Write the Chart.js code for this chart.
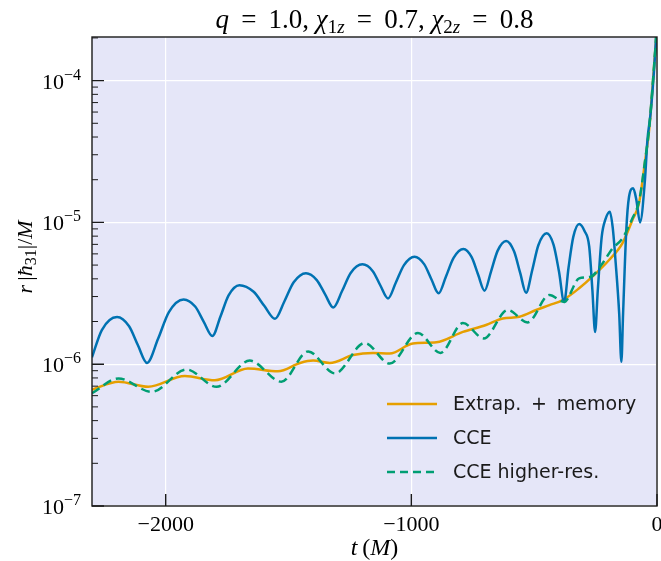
<!DOCTYPE html>
<html>
<head>
<meta charset="utf-8">
<script src="https://cdn.jsdelivr.net/npm/chart.js@4.4.1/dist/chart.umd.min.js"></script>
<style>
html, body { margin: 0; padding: 0; background: #ffffff; }
#caixa { width: 661px; height: 561px; }
</style>
</head>
<body>
<div id="caixa"><canvas id="grafico" width="661" height="561"></canvas></div>
<script>
// valores (t em M, r|h31|/M)
const tempoExtrap = [-2300, -2192, -2071, -1922, -1800, -1665, -1543, -1453, -1400, -1332, -1237, -1156, -1088, -994, -898, -790, -696, -628, -560, -492, -438, -384, -317, -263, -195, -141, -100, -73, -46, -32, -19, -5, 0];
const valorExtrap = [6.61e-7, 7.52e-7, 6.93e-7, 8.24e-7, 7.71e-7, 9.33e-7, 8.91e-7, 1.02e-6, 1.06e-6, 1.02e-6, 1.16e-6, 1.20e-6, 1.19e-6, 1.40e-6, 1.43e-6, 1.69e-6, 1.89e-6, 2.10e-6, 2.16e-6, 2.41e-6, 2.61e-6, 2.83e-6, 3.43e-6, 4.14e-6, 5.43e-6, 7.11e-6, 1.04e-5, 1.37e-5, 2.91e-5, 4.49e-5, 8.59e-5, 1.84e-4, 2.5e-4];

const tempoCce = [-2300, -2260, -2198, -2149, -2113, -2076, -2031, -1987, -1927, -1880,
    -1845, -1810, -1777, -1744, -1700, -1642, -1598, -1555, -1517, -1479,
    -1429, -1385, -1351, -1318, -1282, -1247, -1199, -1157, -1126, -1095,
    -1063, -1030, -987, -948, -918, -889, -859, -828, -788, -754,
    -728, -702, -676, -649, -614, -582, -557, -533, -508, -483,
    -449, -421, -399, -378, -360, -341, -317, -295, -276, -263,
    -252, -241, -225, -210, -192, -180, -168, -154, -145, -138,
    -125, -114, -97, -84, -69, -49, -39, -26, -12, -5, 0];
const valorCce = [1.12e-6, 1.74e-6, 2.15e-6, 1.85e-6, 1.36e-6, 1.02e-6, 1.51e-6, 2.33e-6, 2.86e-6, 2.55e-6,
    1.99e-6, 1.58e-6, 2.17e-6, 3.06e-6, 3.61e-6, 3.24e-6, 2.57e-6, 2.09e-6, 2.77e-6, 3.78e-6,
    4.38e-6, 3.92e-6, 3.11e-6, 2.51e-6, 3.28e-6, 4.40e-6, 5.06e-6, 4.53e-6, 3.59e-6, 2.91e-6,
    3.77e-6, 5.0e-6, 5.73e-6, 5.08e-6, 3.96e-6, 3.16e-6, 4.16e-6, 5.62e-6, 6.49e-6, 5.66e-6,
    4.27e-6, 3.30e-6, 4.48e-6, 6.30e-6, 7.40e-6, 6.25e-6, 4.40e-6, 3.19e-6, 4.60e-6, 6.90e-6,
    8.38e-6, 6.93e-6, 4.50e-6, 2.75e-6, 4.81e-6, 7.87e-6, 9.75e-6, 8.7e-6, 6.76e-6, 3.33e-6,
    1.69e-6, 3.33e-6, 7.94e-6, 1.05e-5, 1.19e-5, 9.1e-6, 5.13e-6, 2.29e-6, 1.04e-6, 2.29e-6,
    8.83e-6, 1.51e-5, 1.74e-5, 1.44e-5, 1.0e-5, 2.0e-5, 3.8e-5, 5.89e-5, 1.19e-4, 1.84e-4, 2.5e-4];

const tempoAltaRes = [-2300, -2192, -2057, -1915, -1793, -1658, -1529, -1420, -1311, -1190, -1088, -973, -882, -790, -705, -608, -527, -438, -378, -317, -270, -222, -181, -141, -100, -73, -46, -32, -19, -5, 0];
const valorAltaRes = [6.24e-7, 7.94e-7, 6.38e-7, 9.18e-7, 6.93e-7, 1.06e-6, 7.52e-7, 1.23e-6, 8.61e-7, 1.41e-6, 1.01e-6, 1.66e-6, 1.20e-6, 1.95e-6, 1.52e-6, 2.41e-6, 1.97e-6, 3.08e-6, 2.75e-6, 4.03e-6, 4.14e-6, 5.14e-6, 6.56e-6, 7.71e-6, 1.07e-5, 1.41e-5, 2.95e-5, 4.57e-5, 8.71e-5, 1.86e-4, 2.5e-4];

const nomesSeries = ['Extrap. \u2009+\u2009 memory', 'CCE', 'CCE higher-res.'];
const ticksX = [-2000, -1000, 0];
const rotulosX = ['\u22122000', '\u22121000', '0'];
const ticksY = [1e-7, 1e-6, 1e-5, 1e-4];
const expoentesY = ['\u22127', '\u22126', '\u22125', '\u22124'];

const limiteX = [-2300, 0];
const limiteY = [1e-7, 2.03e-4];

const corFundo = '#e5e6f8';
const corLaranja = '#e69f00';
const corAzul = '#0072b2';
const corVerde = '#009e73';
const SERIF = '"Liberation Serif", "DejaVu Serif", serif';
const SANS = '"DejaVu Sans", "Noto Sans", sans-serif';

function montarPontos(listaTempo, listaValor) {
    return listaTempo.map((t, i) => ({ x: t, y: listaValor[i] }));
}

function escreverPartes(ctx, partes, x, y, alinhamento) {
    let largura = 0;
    partes.forEach((p) => {
        ctx.font = p.fonte;
        largura += ctx.measureText(p.texto).width;
    });
    let cx = x;
    if (alinhamento === 'center') cx = x - largura / 2;
    if (alinhamento === 'right') cx = x - largura;
    partes.forEach((p) => {
        ctx.font = p.fonte;
        ctx.fillText(p.texto, cx, y + (p.dy || 0));
        cx += ctx.measureText(p.texto).width;
    });
}

const it = (tam) => 'italic ' + tam + 'px ' + SERIF;
const rm = (tam) => tam + 'px ' + SERIF;
const igual = ' \u2009=\u2009 ';

const pluginMoldura = {
    id: 'moldura',
    beforeDraw(chart) {
        const { ctx, chartArea: a } = chart;
        ctx.save();
        ctx.fillStyle = '#ffffff';
        ctx.fillRect(0, 0, chart.width, chart.height);
        ctx.fillStyle = corFundo;
        ctx.fillRect(a.left, a.top, a.right - a.left, a.bottom - a.top);
        ctx.restore();
    },
    afterDraw(chart) {
        const { ctx, chartArea: a } = chart;
        const escalaX = chart.scales.x;
        const escalaY = chart.scales.y;
        ctx.save();

        // moldura
        ctx.strokeStyle = '#1a1a1a';
        ctx.lineWidth = 1.4;
        ctx.strokeRect(a.left, a.top, a.right - a.left, a.bottom - a.top);

        // ticks para dentro
        ctx.beginPath();
        ticksY.forEach((v) => {
            const py = escalaY.getPixelForValue(v);
            ctx.moveTo(a.left, py);
            ctx.lineTo(a.left + 12, py);
        });
        ticksX.forEach((v) => {
            const px = escalaX.getPixelForValue(v);
            ctx.moveTo(px, a.bottom);
            ctx.lineTo(px, a.bottom - 12);
        });
        ctx.stroke();

        ctx.lineWidth = 1;
        ctx.beginPath();
        for (let d = -7; d <= -4; d++) {
            for (let m = 2; m <= 9; m++) {
                const v = m * Math.pow(10, d);
                if (v > limiteY[1]) continue;
                const py = escalaY.getPixelForValue(v);
                ctx.moveTo(a.left, py);
                ctx.lineTo(a.left + 6, py);
            }
        }
        ctx.stroke();

        // rotulos dos ticks
        ctx.fillStyle = '#000000';
        ctx.textBaseline = 'alphabetic';
        ticksY.forEach((v, i) => {
            const py = escalaY.getPixelForValue(v);
            escreverPartes(ctx, [
                { texto: '10', fonte: rm(22) },
                { texto: expoentesY[i], fonte: rm(16), dy: -9 }
            ], a.left - 11, py + 8, 'right');
        });
        ticksX.forEach((v, i) => {
            const px = escalaX.getPixelForValue(v);
            escreverPartes(ctx, [{ texto: rotulosX[i], fonte: rm(22) }], px, a.bottom + 25, 'center');
        });

        // titulo
        const centro = (a.left + a.right) / 2;
        escreverPartes(ctx, [
            { texto: 'q', fonte: it(27) },
            { texto: igual + '1.0, ', fonte: rm(27) },
            { texto: '\u03c7', fonte: it(27) },
            { texto: '1', fonte: rm(19), dy: 5 },
            { texto: 'z', fonte: it(19), dy: 5 },
            { texto: igual + '0.7, ', fonte: rm(27) },
            { texto: '\u03c7', fonte: it(27) },
            { texto: '2', fonte: rm(19), dy: 5 },
            { texto: 'z', fonte: it(19), dy: 5 },
            { texto: igual + '0.8', fonte: rm(27) }
        ], centro, 28, 'center');

        // rotulo eixo x
        escreverPartes(ctx, [
            { texto: 't', fonte: it(24) },
            { texto: '\u2009(', fonte: rm(24) },
            { texto: 'M', fonte: it(24) },
            { texto: ')', fonte: rm(24) }
        ], centro, 555, 'center');

        // rotulo eixo y
        ctx.save();
        ctx.translate(32, 257);
        ctx.rotate(-Math.PI / 2);
        escreverPartes(ctx, [
            { texto: 'r', fonte: it(22) },
            { texto: '\u2009|', fonte: rm(22) },
            { texto: '\u0127', fonte: it(22) },
            { texto: '31', fonte: rm(16), dy: 4 },
            { texto: '|/', fonte: rm(22) },
            { texto: 'M', fonte: it(22) }
        ], 0, 0, 'center');
        ctx.restore();

        // legenda
        const linhasLegenda = [
            { cor: corLaranja, tracejado: [] },
            { cor: corAzul, tracejado: [] },
            { cor: corVerde, tracejado: [8, 5] }
        ];
        ctx.font = '19px ' + SANS;
        ctx.textBaseline = 'middle';
        linhasLegenda.forEach((item, i) => {
            const py = 404 + i * 34;
            ctx.strokeStyle = item.cor;
            ctx.lineWidth = 2.5;
            ctx.setLineDash(item.tracejado);
            ctx.beginPath();
            ctx.moveTo(387, py);
            ctx.lineTo(437, py);
            ctx.stroke();
            ctx.setLineDash([]);
            ctx.fillStyle = '#1a1a1a';
            ctx.fillText(nomesSeries[i], 453, py + 1);
        });

        ctx.restore();
    }
};

const contexto = document.getElementById('grafico').getContext('2d');

new Chart(contexto, {
    type: 'line',
    data: {
        datasets: [
            {
                label: nomesSeries[0],
                data: montarPontos(tempoExtrap, valorExtrap),
                borderColor: corLaranja,
                borderWidth: 2.5,
                cubicInterpolationMode: 'monotone',
                pointRadius: 0,
                order: 2
            },
            {
                label: nomesSeries[1],
                data: montarPontos(tempoCce, valorCce),
                borderColor: corAzul,
                borderWidth: 2.5,
                cubicInterpolationMode: 'monotone',
                pointRadius: 0,
                order: 1
            },
            {
                label: nomesSeries[2],
                data: montarPontos(tempoAltaRes, valorAltaRes),
                borderColor: corVerde,
                borderWidth: 2.5,
                borderDash: [9, 5],
                cubicInterpolationMode: 'monotone',
                pointRadius: 0,
                order: 0
            }
        ]
    },
    options: {
        responsive: false,
        animation: false,
        events: [],
        layout: { padding: { left: 0, right: 4, top: 37, bottom: 0 } },
        plugins: {
            legend: { display: false },
            tooltip: { enabled: false }
        },
        scales: {
            x: {
                type: 'linear',
                min: limiteX[0],
                max: limiteX[1],
                afterBuildTicks: (escala) => { escala.ticks = ticksX.map((v) => ({ value: v })); },
                afterFit: (escala) => { escala.height = 55; },
                ticks: { display: false },
                grid: { color: '#ffffff', lineWidth: 1.2, drawTicks: false },
                border: { display: false }
            },
            y: {
                type: 'logarithmic',
                min: limiteY[0],
                max: limiteY[1],
                afterBuildTicks: (escala) => { escala.ticks = ticksY.map((v) => ({ value: v })); },
                afterFit: (escala) => { escala.width = 92; },
                ticks: { display: false },
                grid: { color: '#ffffff', lineWidth: 1.2, drawTicks: false },
                border: { display: false }
            }
        }
    },
    plugins: [pluginMoldura]
});
</script>
</body>
</html>
